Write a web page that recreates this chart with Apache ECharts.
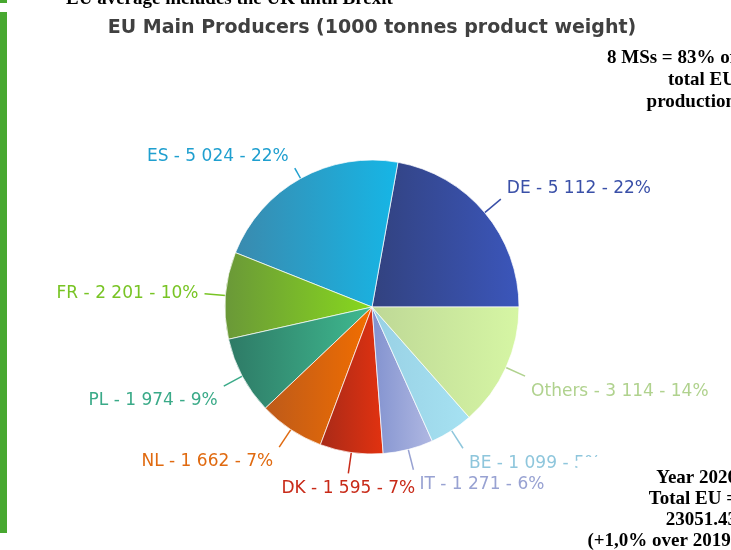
<!DOCTYPE html>
<html>
<head>
<meta charset="utf-8">
<script src="https://cdn.jsdelivr.net/npm/echarts@6/dist/echarts.min.js"></script>
<style>
  html, body { margin: 0; padding: 0; background: #fff; }
  #chart { width: 731px; height: 550px; }
</style>
</head>
<body>
<div id="chart"></div>
<script>
const countries = ['DE', 'ES', 'FR', 'PL', 'NL', 'DK', 'IT', 'BE', 'Others'];
const volumes = [5112, 5024, 2201, 1974, 1662, 1595, 1271, 1099, 3114];
// gradient left -> right, label colour
const sliceColors = [
  ['#32427f', '#3b56bb', '#3a50a8'],
  ['#3a8aae', '#16b6e6', '#1f9fcf'],
  ['#6a9838', '#88d81e', '#78c424'],
  ['#2e7a66', '#3fba90', '#3aaa88'],
  ['#bd5a1a', '#f26e00', '#e06a10'],
  ['#a82a18', '#e23210', '#c82a18'],
  ['#8292cf', '#b0b8e2', '#98a2d2'],
  ['#98d0e4', '#a6e2f2', '#8ec6dc'],
  ['#bed896', '#d6f6a4', '#b0d28e']
];

function fmt(n) {
  return String(n).replace(/\B(?=(\d{3})+(?!\d))/g, ' ');
}

const chart = echarts.init(document.getElementById('chart'), null, {renderer: 'canvas', devicePixelRatio: 1});

const pieData = countries.map((name, i) => ({
  name: name,
  value: volumes[i],
  itemStyle: {
    color: new echarts.graphic.LinearGradient(0, 0, 1, 0, [
      {offset: 0, color: sliceColors[i][0]},
      {offset: 1, color: sliceColors[i][1]}
    ])
  },
  label: {color: sliceColors[i][2]},
  labelLine: {length: name === 'ES' ? 12 : 21, lineStyle: {color: sliceColors[i][2]}}
}));

// excel-like placement: text sits just past the end of the leader line
function placeLabel(params) {
  const pts = params.labelLinePoints;
  if (!pts) return {};
  const p0 = pts[0], p1 = pts[1];
  const len = Math.hypot(p1[0] - p0[0], p1[1] - p0[1]) || 1;
  const ux = (p1[0] - p0[0]) / len;
  const uy = (p1[1] - p0[1]) / len;
  const shift = uy > 0 ? 15 : 11;
  const out = {labelLinePoints: [p0, p1, p1], verticalAlign: 'middle'};
  if (Math.abs(ux) < 0.2) {
    out.align = 'center';
    out.x = p1[0];
    out.y = p1[1] + shift;
  } else {
    out.align = ux > 0 ? 'left' : 'right';
    out.x = p1[0] + Math.sign(ux) * 6;
    out.y = p1[1] + Math.sign(uy) * Math.min(1, Math.max(0, Math.abs(uy) - 0.15) * 4) * shift;
  }
  return out;
}

const option = {
  animation: false,
  backgroundColor: '#fff',
  graphic: [
    {type: 'rect', shape: {x: 0, y: 0, width: 7, height: 3}, style: {fill: '#48a830'}},
    {type: 'rect', shape: {x: 0, y: 12, width: 7, height: 521}, style: {fill: '#48a830'}},
    {
      type: 'text', x: 66, y: -1,
      style: {text: 'EU average includes the UK until Brexit', fill: '#000',
        font: 'bold 19px "Liberation Serif"', verticalAlign: 'middle', align: 'left'}
    },
    {
      type: 'text', x: 372, y: 28,
      style: {text: 'EU Main Producers (1000 tonnes product weight)', fill: '#404040',
        font: 'bold 19px "DejaVu Sans"', verticalAlign: 'middle', align: 'center'}
    },
    {
      type: 'text', x: 736, y: 47, z: 10,
      style: {text: '8 MSs = 83% of\ntotal EU\nproduction', fill: '#000',
        font: 'bold 19px "Liberation Serif"', lineHeight: 22, align: 'right', verticalAlign: 'top'}
    },
    {
      type: 'text', x: 737, y: 457, z: 10,
      style: {text: 'Year 2020\nTotal EU =\n23051.43\n(+1,0% over 2019)', fill: '#000',
        font: 'bold 19px "Liberation Serif"', lineHeight: 21, align: 'right', verticalAlign: 'top',
        backgroundColor: '#fff', padding: [11, 0, 0, 10]}
    }
  ],
  series: [{
    type: 'pie',
    center: [372, 307],
    radius: 147,
    startAngle: 0,
    clockwise: false,
    avoidLabelOverlap: false,
    data: pieData,
    itemStyle: {borderColor: 'rgba(255,255,255,0.7)', borderWidth: 1},
    label: {
      show: true,
      fontFamily: 'DejaVu Sans',
      fontSize: 17,
      formatter: p => p.name + ' - ' + fmt(p.value) + ' - ' + Math.round(p.percent) + '%'
    },
    labelLine: {show: true, length: 21, length2: 0, smooth: false, lineStyle: {width: 1.5}},
    labelLayout: placeLabel
  }]
};
chart.setOption(option);
</script>
</body>
</html>
